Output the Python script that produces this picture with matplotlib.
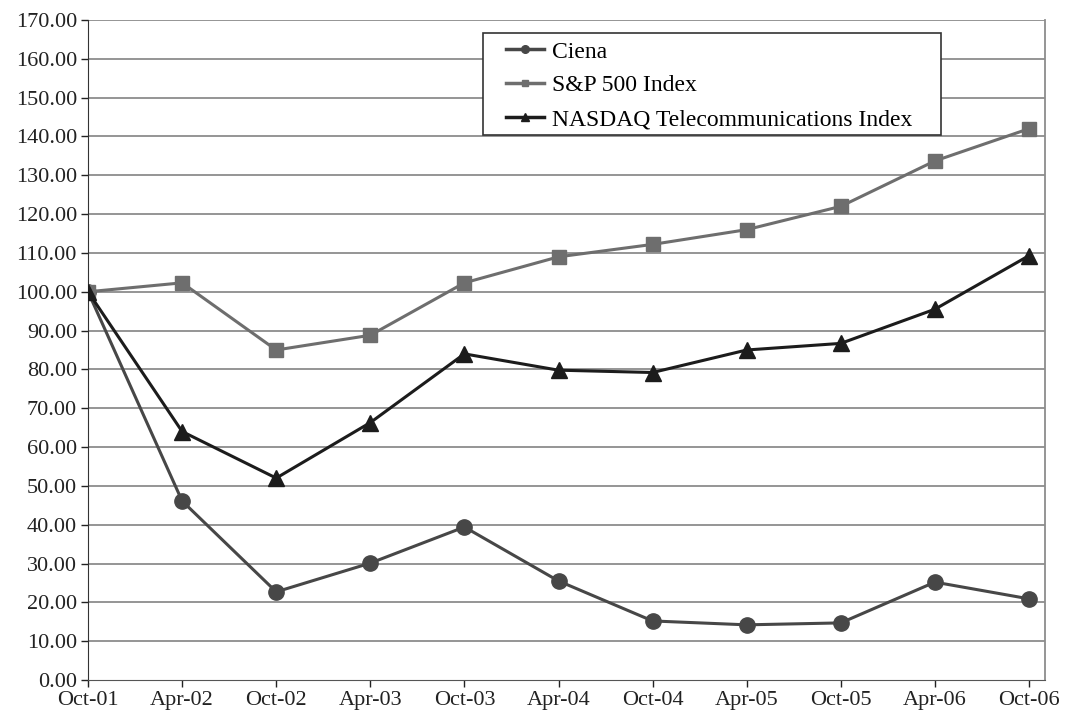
import matplotlib.pyplot as plt
from matplotlib.patches import Rectangle

dates = ['Oct-01', 'Apr-02', 'Oct-02', 'Apr-03', 'Oct-03', 'Apr-04',
         'Oct-04', 'Apr-05', 'Oct-05', 'Apr-06', 'Oct-06']

ciena = [100.0, 46.1, 22.7, 30.1, 39.4, 25.5, 15.2, 14.2, 14.7, 25.2, 20.9]
sp500 = [100.0, 102.3, 85.0, 88.8, 102.3, 109.0, 112.2, 116.0, 122.0, 133.7, 142.0]
nasdaq_tel = [100.0, 64.0, 52.0, 66.3, 84.0, 79.8, 79.2, 85.0, 86.7, 95.5, 109.3]

labels = ['Ciena', 'S&P 500 Index', 'NASDAQ Telecommunications Index']

plt.rcParams['font.family'] = ['Liberation Serif', 'DejaVu Serif']

fig = plt.figure(figsize=(10.71, 7.15), dpi=100)
ax = fig.add_axes([0.0822, 0.049, 0.8935, 0.923])

x = list(range(len(dates)))

# horizontal grid first so lines sit on top
for v in range(10, 171, 10):
    ax.axhline(v, color='#8c8c8c', lw=1.3, zorder=1)

ax.plot(x, ciena, color='#474747', lw=2.2, marker='o', ms=11, label=labels[0], zorder=3)
ax.plot(x, sp500, color='#6e6e6e', lw=2.2, marker='s', ms=10, label=labels[1], zorder=3)
ax.plot(x, nasdaq_tel, color='#1c1c1c', lw=2.2, marker='^', ms=11, label=labels[2], zorder=4)

ax.set_xlim(0, 10.17)
ax.set_ylim(0, 170)
ax.set_xticks(x)
ax.set_xticklabels(dates)
ax.set_yticks(range(0, 171, 10))
ax.set_yticklabels([f'{v:.2f}' for v in range(0, 171, 10)])
ax.tick_params(labelsize=16, colors='#222222', length=5, width=1, direction='out', pad=3)

ax.spines['top'].set_visible(False)
ax.spines['right'].set_color('#8c8c8c')
ax.spines['right'].set_linewidth(1.3)
ax.spines['left'].set_color('#333333')
ax.spines['bottom'].set_color('#555555')

# legend box drawn separately so the left padding can be wider
box = Rectangle((483 / 1071, 1 - 135 / 715), 458 / 1071, 102 / 715,
                transform=fig.transFigure, facecolor='white', edgecolor='#333333',
                lw=1.2, zorder=5)
fig.add_artist(box)

handles, lbls = ax.get_legend_handles_labels()
leg = fig.legend(handles, lbls, loc='upper left', bbox_to_anchor=(506 / 1071, 1 - 41 / 715),
                 borderaxespad=0, borderpad=0, fontsize=17, frameon=False,
                 markerscale=0.5, handlelength=1.6, handletextpad=0.35,
                 labelspacing=0.52)
leg.set_zorder(6)
for line in leg.get_lines():
    line.set_linewidth(2.5)

fig.savefig('out.png', dpi=100)
